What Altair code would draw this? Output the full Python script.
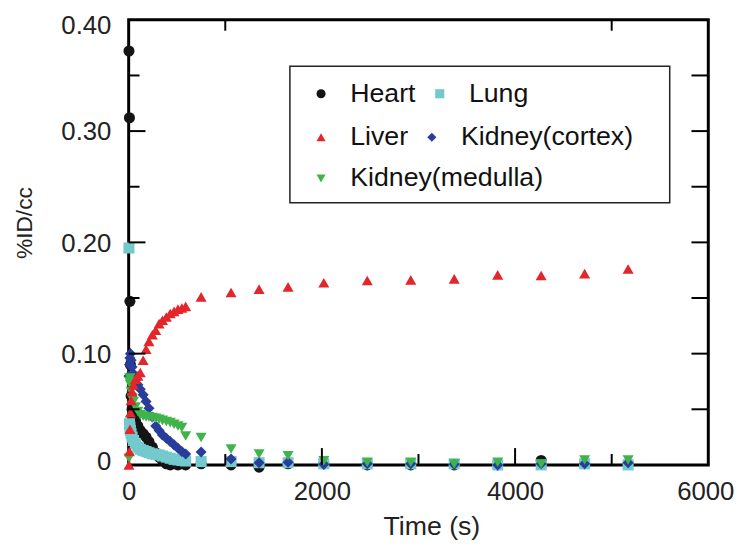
import altair as alt
import pandas as pd

# ---- data ----
times = [3, 8, 13, 18, 25, 35, 50, 70, 95, 120, 150, 180, 210, 245, 280, 315, 350,
         390, 430, 470, 510, 550, 590,
         750, 1060, 1350, 1650, 2020, 2470, 2920, 3370, 3820, 4270, 4720, 5170]

heart = [0.372, 0.312, 0.147, 0.090, 0.062, 0.050, 0.044, 0.040, 0.035, 0.031,
         0.028, 0.025, 0.021, 0.016, 0.011, 0.007, 0.004, 0.001, 0.000, 0.001,
         0.000, 0.001, 0.000,
         0.001, 0.000, -0.002, 0.001, 0.001, 0.000, 0.000, 0.000, 0.000, 0.004, 0.001, 0.001]

lung = [0.195, 0.037, 0.034, 0.031, 0.028, 0.025, 0.022, 0.019, 0.016, 0.014,
        0.013, 0.012, 0.011, 0.010, 0.0095, 0.009, 0.008, 0.007, 0.006, 0.005,
        0.0045, 0.004, 0.0035,
        0.003, 0.003, 0.002, 0.002, 0.001, 0.001, 0.001, 0.001, 0.000, 0.000, 0.001, 0.000]

liver = [0.000, 0.012, 0.032, 0.047, 0.058, 0.066, 0.072, 0.077, 0.080, 0.083,
         0.094, 0.104, 0.111, 0.117, 0.121, 0.127, 0.130, 0.133, 0.136, 0.138,
         0.140, 0.141, 0.1425,
         0.151, 0.155, 0.158, 0.160, 0.1637, 0.1657, 0.1663, 0.1672, 0.1708, 0.1702, 0.1719, 0.1761]

cortex = [0.080, 0.090, 0.096, 0.100, 0.094, 0.088, 0.082, 0.076, 0.072, 0.068,
          0.063, 0.057, 0.051, 0.043, 0.035, 0.031, 0.027, 0.024, 0.021, 0.018,
          0.015, 0.012, 0.0098,
          0.0116, 0.0053, 0.002, 0.0024, 0.0005, 0.001, 0.001, 0.0005, 0.000, 0.001, 0.001, 0.002]

medulla = [0.006, 0.075, 0.078, 0.072, 0.066, 0.060, 0.057, 0.052, 0.048, 0.045,
           0.044, 0.043, 0.043, 0.0425, 0.042, 0.041, 0.040, 0.039, 0.038, 0.0365,
           0.035, 0.0336, 0.026,
           0.0247, 0.0143, 0.0098, 0.0083, 0.0038, 0.0024, 0.0024, 0.0009, 0.0024, 0.0009, 0.0045, 0.0045]

series_names = ["Heart", "Lung", "Liver", "Kidney(cortex)", "Kidney(medulla)"]
series_values = [heart, lung, liver, cortex, medulla]
series_colors = ["#141414", "#74c9cc", "#e3262a", "#283c9b", "#3fb44a"]
series_shapes = ["circle", "square", "triangle-up", "diamond", "triangle-down"]
series_sizes = [125, 125, 175, 115, 175]
draw_order = ["Heart", "Lung", "Kidney(cortex)", "Kidney(medulla)", "Liver"]
legend_rows = [["Heart", "Lung"], ["Liver", "Kidney(cortex)"], ["Kidney(medulla)"]]

y_labels = [0, 0.1, 0.2, 0.3, 0.4]
x_labels = [0, 2000, 4000, 6000]
left_major = [0.1, 0.2, 0.3]
left_minor = [0.05, 0.15, 0.25, 0.35]
right_ticks = [0.05, 0.1, 0.15, 0.2, 0.25, 0.3, 0.35]
bottom_major = [2000, 4000]
bottom_minor = [1000, 3000, 5000]
top_minor = [1000, 5000]

rows = []
for name, vals in zip(series_names, series_values):
    for t, v in zip(times, vals):
        rows.append({"series": name, "t": t, "v": v, "ord": draw_order.index(name)})
df = pd.DataFrame(rows)

W, H = 586, 450
FONT = "Liberation Sans"
xscale = alt.Scale(domain=[0, 6000], nice=False)
yscale = alt.Scale(domain=[0, 0.4], nice=False)

x_axis = alt.Axis(values=x_labels, format="d", ticks=False, domain=False, grid=False,
                  labelFontSize=26, labelFont=FONT, labelColor="#222222",
                  labelPadding=14, labelFlush=False, labelOverlap=False,
                  labelOffset={"condition": {"test": "datum.value == 6000", "value": -3}, "value": 0},
                  title="Time (s)", titleFont=FONT, titleFontSize=27,
                  titleFontWeight="normal", titleColor="#222222",
                  titleBaseline="alphabetic", titleX=306, titleY=70)
y_axis = alt.Axis(values=y_labels, ticks=False, domain=False, grid=False,
                  labelExpr="datum.value == 0 ? '0' : format(datum.value, '.2f')",
                  labelFontSize=26, labelFont=FONT, labelColor="#222222",
                  labelPadding=18, labelFlush=False, labelOverlap=False,
                  labelOffset={"condition": [{"test": "datum.value == 0.4", "value": 6},
                                             {"test": "datum.value == 0", "value": -3}],
                               "value": 1},
                  title="%ID/cc", titleFont=FONT, titleFontSize=23,
                  titleFontWeight="normal", titleColor="#222222",
                  titleBaseline="alphabetic", titleX=-98, titleY=205)

def idx(names):
    return [series_names.index(n) for n in names]

points = alt.Chart(df).mark_point(filled=True, opacity=1).encode(
    x=alt.X("t:Q", scale=xscale, axis=x_axis),
    y=alt.Y("v:Q", scale=yscale, axis=y_axis),
    color=alt.Color("series:N", scale=alt.Scale(domain=series_names, range=series_colors), legend=None),
    shape=alt.Shape("series:N", scale=alt.Scale(domain=series_names, range=series_shapes), legend=None),
    size=alt.Size("series:N", scale=alt.Scale(domain=series_names, range=series_sizes), legend=None),
    order=alt.Order("ord:Q"),
)

# legend frame (decoration)
legend_box = alt.Chart(pd.DataFrame({"k": [0]})).mark_rect(
    fill="white", stroke="#222222", strokeWidth=1.5
).encode(x=alt.value(163), x2=alt.value(547), y=alt.value(47), y2=alt.value(185))

row_y = [61, 105, 147]

def legend_layer(names, ly):
    ii = idx(names)
    # legend-only layer: no marks drawn (filtered out), entries come from the explicit domain
    return alt.Chart(df).transform_filter("false").mark_point(filled=True, opacity=1).encode(
        x=alt.X("t:Q", scale=xscale, axis=x_axis),
        y=alt.Y("v:Q", scale=yscale, axis=y_axis),
        color=alt.Color("series:N",
                        scale=alt.Scale(domain=names, range=[series_colors[i] for i in ii]),
                        legend=alt.Legend(title=None, orient="none", legendX=181, legendY=ly,
                                          direction="horizontal", symbolSize=85,
                                          labelFont=FONT, labelFontSize=27, labelColor="#111111",
                                          labelLimit=400, padding=0, symbolOffset=0,
                                          columnPadding=10, labelOffset=16)),
        shape=alt.Shape("series:N",
                        scale=alt.Scale(domain=names, range=[series_shapes[i] for i in ii])),
    )

def yticks(vals, x0, x1):
    return alt.Chart(pd.DataFrame({"v": vals})).mark_rule(color="black", strokeWidth=2).encode(
        y=alt.Y("v:Q", scale=yscale, axis=y_axis), x=alt.value(x0), x2=alt.value(x1))

def xticks(vals, y0, y1):
    return alt.Chart(pd.DataFrame({"t": vals})).mark_rule(color="black", strokeWidth=2).encode(
        x=alt.X("t:Q", scale=xscale, axis=x_axis), y=alt.value(y0), y2=alt.value(y1))

chart = alt.layer(
    points,
    yticks(left_major, 0, 17),
    yticks(left_minor, 0, 11),
    yticks(right_ticks, W - 17, W),
    xticks(bottom_major, H, H - 17),
    xticks(bottom_minor, H, H - 11),
    xticks(top_minor, 0, 11),
    legend_box,
    legend_layer(legend_rows[0], row_y[0]),
    legend_layer(legend_rows[1], row_y[1]),
    legend_layer(legend_rows[2], row_y[2]),
).resolve_scale(
    color="independent", shape="independent", size="independent"
).resolve_legend(
    color="independent", shape="independent"
).properties(
    width=W, height=H,
    autosize=alt.AutoSizeParams(type="none"),
    padding={"left": 122, "top": 9, "right": 27, "bottom": 77},
).configure_view(
    stroke="black", strokeWidth=3
)

chart.save("out.html", embed_options={"renderer": "svg", "actions": False})
